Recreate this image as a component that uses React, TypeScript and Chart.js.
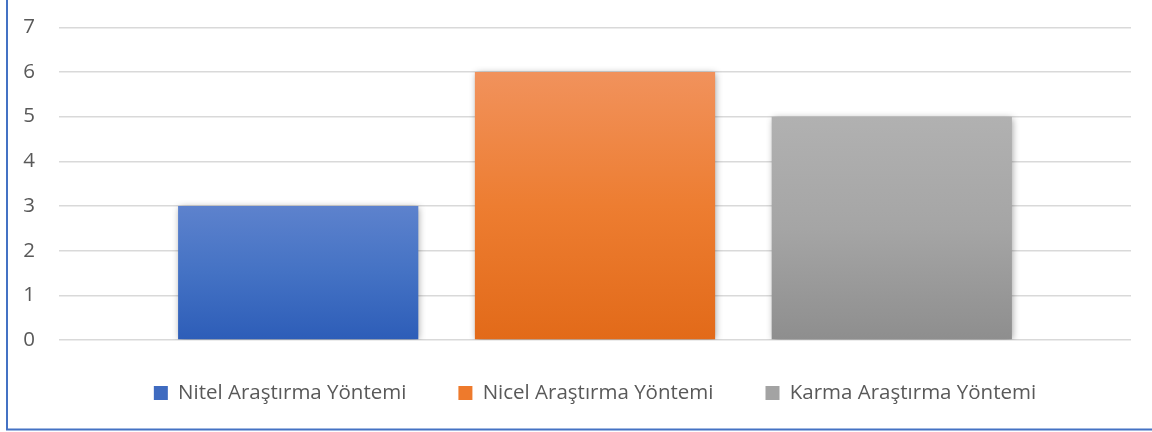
import React, { useEffect, useRef } from "react";
import { Chart, registerables } from "chart.js";

Chart.register(...registerables);

const categories: string[] = [""];
const seriesNames: string[] = [
  "Nitel Araştırma Yöntemi",
  "Nicel Araştırma Yöntemi",
  "Karma Araştırma Yöntemi",
];
const seriesValues: number[][] = [[3], [6], [5]];
const yTicks: number[] = [0, 1, 2, 3, 4, 5, 6, 7];

const gradientStops: [string, string, string][] = [
  ["#5D82CD", "#4472C4", "#2D5DB8"],
  ["#F1925C", "#ED7D31", "#E26A19"],
  ["#B1B1B1", "#A5A5A5", "#8E8E8E"],
];
const legendColors: string[] = ["#3F6BC0", "#EE7A2C", "#A3A3A3"];

const FONT = "'Open Sans', 'Noto Sans', sans-serif";
const TEXT_COLOR = "#595959";
const FONT_SIZE = 20.5;
const LEGEND_GAP = 52;
const PLOT_TOP = 27.3;
const PLOT_BOTTOM = 340;

const shadowPlugin = {
  id: "barShadow",
  beforeDatasetsDraw(chart: any) {
    const ctx = chart.ctx;
    ctx.save();
    ctx.shadowColor = "rgba(0,0,0,0.38)";
    ctx.shadowBlur = 7;
    ctx.shadowOffsetX = 1;
    ctx.shadowOffsetY = 1;
  },
  afterDatasetsDraw(chart: any) {
    chart.ctx.restore();
  },
};

const framePlugin = {
  id: "frame",
  afterLayout(chart: any) {
    const ys = chart.scales.y;
    if (ys) {
      ys.top = PLOT_TOP;
      ys.bottom = PLOT_BOTTOM;
      ys.height = PLOT_BOTTOM - PLOT_TOP;
      ys.configure();
      ys._labelItems = null;
      ys._gridLineItems = null;
      const ca = chart.chartArea;
      ca.top = PLOT_TOP;
      ca.bottom = PLOT_BOTTOM;
      ca.height = PLOT_BOTTOM - PLOT_TOP;
    }
    const lg = chart.legend;
    if (lg) {
      const itemH = Math.max(14, FONT_SIZE);
      const desiredTop = 393 - itemH / 2 - LEGEND_GAP;
      const shift = desiredTop - lg.top;
      lg.top += shift;
      lg.bottom += shift;
    }
  },
  afterDraw(chart: any) {
    const ctx = chart.ctx;
    ctx.save();
    ctx.strokeStyle = "#4472C4";
    ctx.lineWidth = 2;
    ctx.beginPath();
    ctx.moveTo(7, 0);
    ctx.lineTo(7, 429.5);
    ctx.lineTo(chart.width, 429.5);
    ctx.stroke();
    ctx.restore();
  },
};

export default function App() {
  const canvasRef = useRef<HTMLCanvasElement | null>(null);

  useEffect(() => {
    const canvas = canvasRef.current;
    if (!canvas) return;

    const datasets = seriesNames.map((name, i) => ({
      label: name,
      data: seriesValues[i],
      backgroundColor: (context: any) => {
        const chart = context.chart;
        const yScale = chart.scales && chart.scales.y;
        const stops = gradientStops[i];
        if (!chart.chartArea || !yScale || context.type !== "data") return stops[1];
        const v = context.raw ?? seriesValues[i][0];
        const top = yScale.getPixelForValue(v);
        const bottom = yScale.getPixelForValue(0);
        if (!isFinite(top) || !isFinite(bottom) || top === bottom) return stops[1];
        const g = chart.ctx.createLinearGradient(0, top, 0, bottom);
        g.addColorStop(0, stops[0]);
        g.addColorStop(0.5, stops[1]);
        g.addColorStop(1, stops[2]);
        return g;
      },
      borderWidth: 0,
      categoryPercentage: 0.8306,
      barPercentage: 0.8094,
    }));

    const chart = new Chart(canvas, {
      type: "bar",
      data: { labels: categories, datasets },
      options: {
        responsive: false,
        animation: false,
        layout: { padding: { left: 0, right: 21, top: 20, bottom: 12 } },
        scales: {
          x: {
            display: false,
            grid: { display: false },
          },
          y: {
            min: 0,
            max: 7,
            afterFit: (scale: any) => {
              scale.width = 59;
            },
            afterBuildTicks: (scale: any) => {
              scale.ticks = yTicks.map((v) => ({ value: v }));
            },
            ticks: {
              stepSize: 1,
              padding: 24,
              color: TEXT_COLOR,
              font: { family: FONT, size: FONT_SIZE },
            },
            grid: {
              color: "#D9D9D9",
              lineWidth: 1.4,
              drawTicks: false,
            },
            border: { display: false },
          },
        },
        plugins: {
          legend: {
            display: true,
            position: "bottom",
            fullSize: false,
            labels: {
              boxWidth: 14,
              boxHeight: 14,
              padding: LEGEND_GAP,
              color: TEXT_COLOR,
              font: { family: FONT, size: FONT_SIZE },
              generateLabels: (ch: any) =>
                ch.data.datasets.map((ds: any, i: number) => ({
                  text: ds.label,
                  fillStyle: legendColors[i],
                  strokeStyle: legendColors[i],
                  lineWidth: 0,
                  hidden: false,
                  datasetIndex: i,
                  fontColor: TEXT_COLOR,
                })),
            },
          },
          tooltip: { enabled: false },
        },
      },
      plugins: [shadowPlugin, framePlugin],
    });

    return () => chart.destroy();
  }, []);

  return (
    <div style={{ position: "absolute", left: 0, top: 0, width: 1152, height: 432, background: "#fff" }}>
      <canvas ref={canvasRef} width={1152} height={432} style={{ display: "block" }} />
    </div>
  );
}
